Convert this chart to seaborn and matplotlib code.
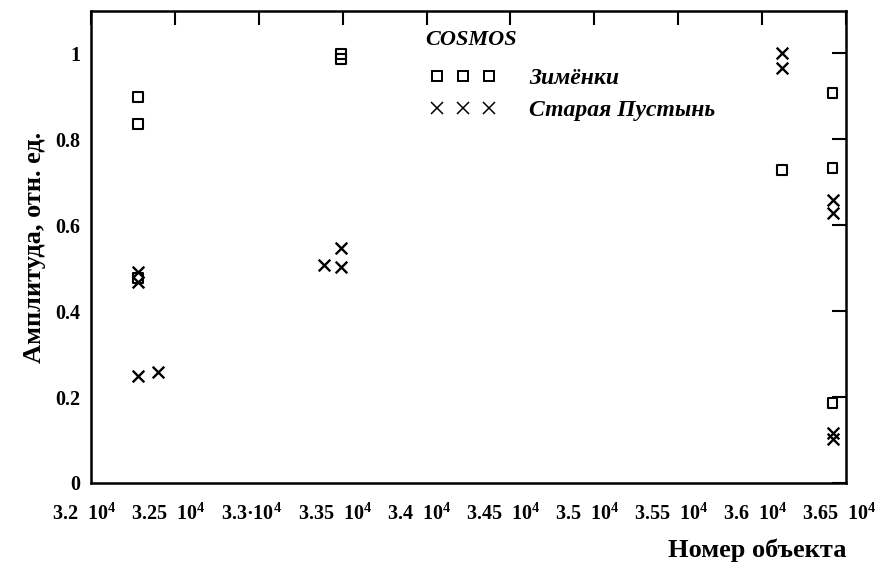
import pandas as pd
import matplotlib
matplotlib.use("Agg")
import matplotlib.pyplot as plt
import matplotlib.transforms as mtransforms
from matplotlib.lines import Line2D
import seaborn as sns

# data
zim_x = [32280, 32280, 32280, 33490, 33490, 36120, 36420, 36420, 36420]
zim_y = [0.898, 0.835, 0.477, 0.998, 0.986, 0.728, 0.907, 0.733, 0.186]

sp_x = [32280, 32280, 32280, 32400, 33390, 33490, 33490,
        36120, 36120, 36420, 36420, 36420, 36420]
sp_y = [0.491, 0.468, 0.250, 0.258, 0.508, 0.547, 0.503,
        1.000, 0.965, 0.658, 0.628, 0.117, 0.103]

x_ticks = [32000, 32500, 33000, 33500, 34000, 34500, 35000, 35500, 36000, 36500]
x_ticklabels = ["3.2  10$^4$", "3.25  10$^4$", "3.3·10$^4$", "3.35  10$^4$",
                "3.4  10$^4$", "3.45  10$^4$", "3.5  10$^4$", "3.55  10$^4$",
                "3.6  10$^4$", "3.65  10$^4$"]
y_ticks = [0, 0.2, 0.4, 0.6, 0.8, 1.0]
y_ticklabels = ["0", "0.2", "0.4", "0.6", "0.8", "1"]

sns.set_theme(style="white")
plt.rcParams['font.family'] = ['Liberation Serif', 'DejaVu Serif']
plt.rcParams['font.weight'] = 'bold'
plt.rcParams['text.color'] = 'black'
plt.rcParams['axes.labelcolor'] = 'black'
plt.rcParams['mathtext.fontset'] = 'custom'
plt.rcParams['mathtext.rm'] = 'Liberation Serif:bold'
plt.rcParams['mathtext.bf'] = 'Liberation Serif:bold'
plt.rcParams['mathtext.it'] = 'Liberation Serif:italic:bold'
plt.rcParams['mathtext.default'] = 'rm'

zim = pd.DataFrame({"x": zim_x, "y": zim_y})
sp = pd.DataFrame({"x": sp_x, "y": sp_y})

fig = plt.figure(figsize=(8.82, 5.62), dpi=100)
ax = fig.add_axes([91 / 882, 1 - 483 / 562, (846 - 91) / 882, (483 - 11) / 562])

sns.scatterplot(data=zim, x="x", y="y", ax=ax, marker="s", s=50,
                facecolor="none", edgecolor="black", linewidth=1.5, legend=False)
sns.scatterplot(data=sp, x="x", y="y", ax=ax, marker="x", s=70,
                color="black", linewidth=1.7, legend=False)

ax.set_xlim(32000, 36500)
ax.set_ylim(0, 1.098)
ax.set_xticks(x_ticks)
ax.set_xticklabels(x_ticklabels)
ax.set_yticks(y_ticks)
ax.set_yticklabels(y_ticklabels)

ax.tick_params(axis="both", which="both", direction="in", length=10, width=1.5,
               top=True, right=True, labelsize=14.5, colors="black")
ax.tick_params(axis="x", pad=15)
ax.tick_params(axis="y", pad=8)
for sp_name in ax.spines:
    ax.spines[sp_name].set_visible(True)
    ax.spines[sp_name].set_color("black")
    ax.spines[sp_name].set_linewidth(1.8)

# labels in the reference sit a little left of their ticks
shift = mtransforms.ScaledTranslation(-7 / 100, 0, fig.dpi_scale_trans)
for lab in ax.get_xticklabels():
    lab.set_transform(lab.get_transform() + shift)

ax.set_xlabel("Номер объекта", fontsize=19, fontweight="bold", loc="right", labelpad=10)
ax.set_ylabel("Амплитуда, отн. ед.", fontsize=19, fontweight="bold", labelpad=6)

# legend: title as plain text, entries as a legend without title
fig.text(425 / 882, 1 - 40 / 562, "COSMOS", fontsize=16, fontstyle="italic",
         fontweight="bold", ha="left", va="center", color="black")

handles = [
    Line2D([], [], marker="s", linestyle="none", markersize=7, markerfacecolor="none",
           markeredgecolor="black", markeredgewidth=1.4),
    Line2D([], [], marker="x", linestyle="none", markersize=8, color="black",
           markeredgewidth=1.1),
]
leg = ax.legend(handles, ["Зимёнки", "Старая Пустынь"], numpoints=3,
                frameon=False, loc="upper left",
                bbox_to_anchor=(418 / 882, 1 - 56 / 562), bbox_transform=fig.transFigure,
                borderpad=0, handlelength=2.8, handletextpad=1.4, labelspacing=0.42,
                prop={"family": "Liberation Serif", "style": "italic",
                      "weight": "bold", "size": 17})
for t in leg.get_texts():
    t.set_color("black")

fig.savefig("out.png", dpi=100, facecolor="white")
